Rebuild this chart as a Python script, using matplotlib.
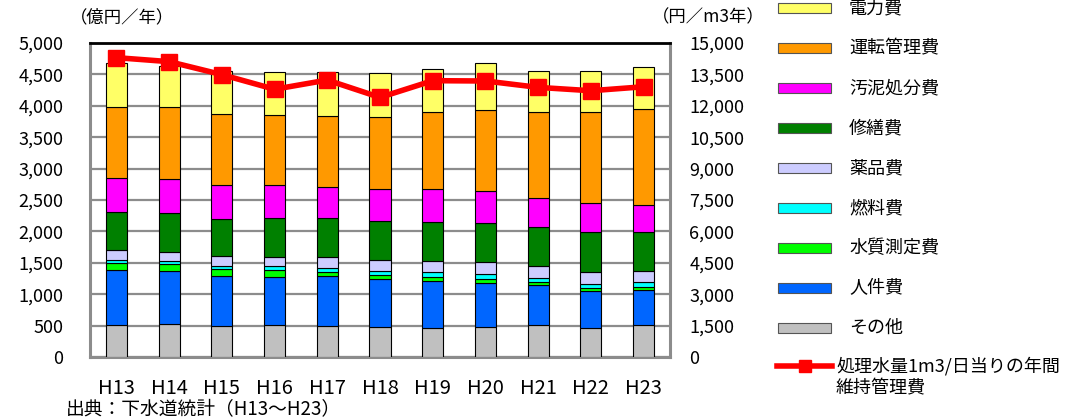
import matplotlib
matplotlib.use("Agg")
import matplotlib.pyplot as plt
import numpy as np
from matplotlib.patches import Rectangle
from matplotlib.lines import Line2D

plt.rcParams['font.family'] = ['Noto Sans CJK JP', 'DejaVu Sans']

# 年度
nendo = ['H13', 'H14', 'H15', 'H16', 'H17', 'H18', 'H19', 'H20', 'H21', 'H22', 'H23']

# 費目別の維持管理費（億円／年）、下から積み上げ順
sonota   = [515, 531, 494, 504, 499, 478, 467, 478, 515, 456, 504]
jinken   = [865, 833, 801, 775, 785, 769, 748, 705, 631, 589, 568]
suishitsu = [111, 117, 106, 101, 74, 53, 53, 59, 53, 53, 37]
nenryo   = [48, 42, 53, 69, 64, 74, 80, 79, 53, 69, 80]
yakuhin  = [159, 154, 148, 148, 165, 170, 186, 191, 192, 181, 175]
shuzen   = [615, 621, 589, 621, 631, 626, 615, 627, 631, 647, 626]
odei     = [542, 531, 547, 515, 483, 499, 520, 498, 451, 457, 424]
unten    = [1120, 1146, 1125, 1114, 1141, 1157, 1226, 1290, 1380, 1454, 1529]
denryoku = [701, 658, 685, 695, 690, 690, 690, 749, 652, 652, 679]

# 処理水量1m3/日当りの年間維持管理費（円／m3年）
tanka = [14300, 14110, 13490, 12790, 13230, 12400, 13200, 13185, 12880, 12720, 12910]

hiyou = [
    ('その他', sonota, '#C0C0C0'),
    ('人件費', jinken, '#0066FF'),
    ('水質測定費', suishitsu, '#00FF00'),
    ('燃料費', nenryo, '#00FFFF'),
    ('薬品費', yakuhin, '#CCCCFF'),
    ('修繕費', shuzen, '#008000'),
    ('汚泥処分費', odei, '#FF00FF'),
    ('運転管理費', unten, '#FF9900'),
    ('電力費', denryoku, '#FFFF66'),
]

W, H = 1079, 419
fig = plt.figure(figsize=(W / 100, H / 100), dpi=100)

def fx(px):
    return px / W

def fy(py):
    return 1 - py / H

ax = fig.add_axes([fx(90), fy(357), fx(670) - fx(90), fy(43) - fy(357)])

x = np.arange(len(nendo))
bottom = np.zeros(len(nendo))
for name, vals, col in hiyou:
    ax.bar(x, vals, width=0.4, bottom=bottom, color=col, edgecolor='black',
           linewidth=0.8, zorder=3)
    bottom += np.array(vals)

ax.set_xlim(-0.5, len(nendo) - 0.5)
ax.set_ylim(0, 5000)
ax.set_yticks(np.arange(0, 5001, 500))
ax.set_yticklabels([f'{v:,}' for v in range(0, 5001, 500)], fontsize=13)
ax.set_xticks(x)
ax.set_xticklabels(nendo, fontsize=14.5)
ax.tick_params(axis='y', length=0, pad=19)
ax.tick_params(axis='x', length=0, pad=15)
ax.grid(axis='y', color='#8C8C8C', linewidth=1.6, zorder=0)
ax.set_axisbelow(True)

for s in ['left', 'bottom', 'right']:
    ax.spines[s].set_color('#8C8C8C')
    ax.spines[s].set_linewidth(2.2)
ax.spines['top'].set_color('black')
ax.spines['top'].set_linewidth(2.0)

# 右軸：単価
ax2 = ax.twinx()
ax2.set_ylim(0, 15000)
ax2.set_yticks(np.arange(0, 15001, 1500))
ax2.set_yticklabels([f'{v:,}' for v in range(0, 15001, 1500)], fontsize=13)
ax2.tick_params(axis='y', length=0, pad=14)
for s in ax2.spines.values():
    s.set_visible(False)
ax2.plot(x, tanka, color='#FF0000', linewidth=4, marker='s', markersize=11,
         zorder=5)

# 単位
fig.text(fx(70), fy(17), '（億円／年）', fontsize=12.5, va='center', ha='left')
fig.text(fx(652), fy(17), '（円／m3年）', fontsize=12.5, va='center', ha='left')
fig.text(fx(66), fy(409), '出典：下水道統計（H13～H23）', fontsize=13.5,
         va='center', ha='left')

# 凡例
for i, (name, vals, col) in enumerate(hiyou[::-1]):
    cy = 8 + 40 * i
    fig.add_artist(Rectangle((fx(778), fy(cy + 5)), fx(831) - fx(778),
                             fy(cy - 5) - fy(cy + 5), facecolor=col,
                             edgecolor='#555555', linewidth=0.8,
                             transform=fig.transFigure))
    fig.text(fx(849), fy(cy), name, fontsize=13, va='center', ha='left')

fig.add_artist(Line2D([fx(777), fx(832)], [fy(366), fy(366)], color='#FF0000',
                      linewidth=4, transform=fig.transFigure))
fig.add_artist(Line2D([fx(804.5)], [fy(366)], color='#FF0000', marker='s',
                      markersize=8, transform=fig.transFigure))
fig.text(fx(836), fy(366), '処理水量1m3/日当りの年間', fontsize=13,
         va='center', ha='left')
fig.text(fx(836), fy(388), '維持管理費', fontsize=13, va='center', ha='left')

fig.savefig('out.png', dpi=100)
